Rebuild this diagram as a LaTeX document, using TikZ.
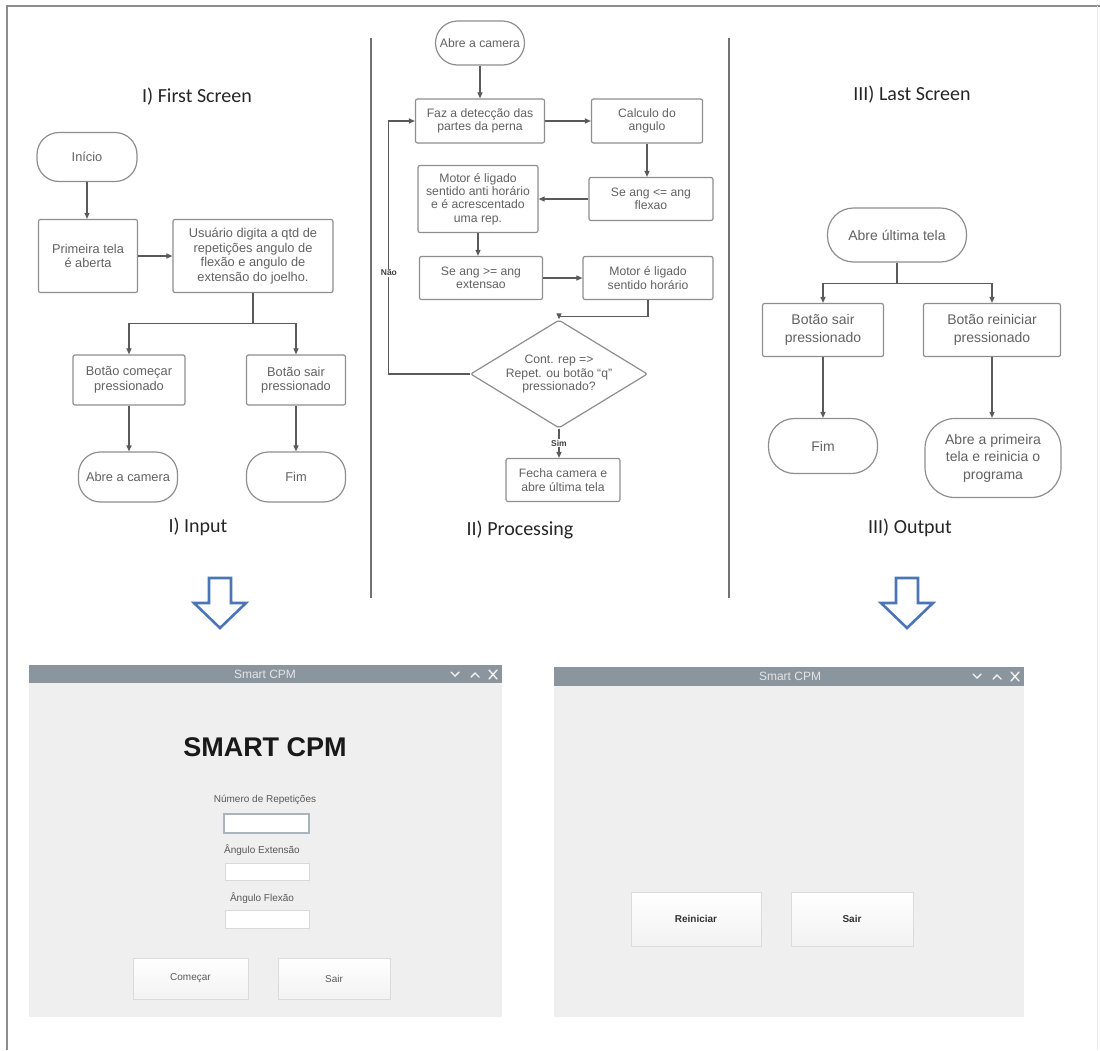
\documentclass[tikz,border=0pt]{standalone}
\usepackage{fontspec}
\setmainfont{Liberation Sans}
\newfontfamily\headfont{Carlito}
\usetikzlibrary{positioning,arrows.meta,shapes.geometric}

\definecolor{boxline}{HTML}{8E8E8E}
\definecolor{boxtext}{HTML}{626262}
\definecolor{wirecol}{HTML}{5A5A5A}
\definecolor{barcol}{HTML}{8A959E}
\definecolor{wincol}{HTML}{EFEFEF}
\definecolor{bluearrow}{HTML}{4A76B8}
\definecolor{fieldfocus}{HTML}{A9B4BB}

\tikzset{
  stepbox/.style={draw=boxline, rectangle, rounded corners=2pt, fill=white, text=boxtext,
                  align=center, inner sep=2pt, line width=1.2pt},
  termbox/.style={stepbox, rounded corners=22pt},
  decisionbox/.style={stepbox, diamond, inner xsep=-8pt, inner ysep=-10pt},
  leftfont/.style={font=\fontsize{12.8}{14.6}\selectfont},
  midfont/.style={font=\fontsize{12.2}{13.4}\selectfont},
  rightfont/.style={font=\fontsize{14}{17.5}\selectfont},
  flow/.style={draw=wirecol, line width=1.1pt, -{Triangle[length=6pt,width=5pt]}},
  wire/.style={draw=wirecol, line width=1.1pt},
  lbl/.style={fill=white, inner sep=1pt, text=black!75, font=\bfseries\fontsize{8.5}{9}\selectfont},
  heading/.style={font=\headfont\fontsize{20}{24}\selectfont, text=black!85},
  sep/.style={draw=black!55, line width=1.4pt},
  winbody/.style={fill=wincol, draw=none},
  winbar/.style={fill=barcol, draw=none},
  wintitle/.style={text=black!10, font=\fontsize{12}{13}\selectfont},
  winctrl/.style={draw=black!5, line width=1.4pt, line cap=round},
  fieldbox/.style={draw=black!15, fill=white, line width=0.8pt},
  fieldlbl/.style={text=black!65, font=\fontsize{10}{11}\selectfont},
  guibtn/.style={draw=black!14, line width=0.8pt, top color=white, bottom color=black!5},
  hollowarrow/.style={draw=bluearrow, line width=2.6pt, fill=white, line join=miter}
}

\begin{document}
\begin{tikzpicture}[x=1pt,y=-1pt]
\useasboundingbox (0,0) rectangle (1100,1050);

% frame and column separators
\draw[draw=black!45, line width=2.2pt] (7,1050) -- (7,6) -- (1100,6);
\draw[draw=black!8, line width=1pt] (1097,6) -- (1097,1050);
\draw[sep] (371,38) -- (371,598);
\draw[sep] (729,38) -- (729,598);

% I) first screen
\node[heading] (hFirst) at (197,97) {I) First Screen};
\node[termbox, leftfont, minimum width=100, minimum height=49] (inicio) at (87,157) {Início};
\node[stepbox, leftfont, minimum width=99, minimum height=73] (primeira) at (88,256) {Primeira tela\\é aberta};
\node[stepbox, leftfont, minimum width=160, minimum height=73] (usuario) at (253,256) {Usuário digita a qtd de\\repetições angulo de\\flexão e angulo de\\extensão do joelho.};
\node[stepbox, leftfont, minimum width=112, minimum height=50] (comecar) at (129,380) {Botão começar\\pressionado};
\node[stepbox, leftfont, minimum width=99, minimum height=50] (sairL) at (296,380) {Botão sair\\pressionado};
\node[termbox, leftfont, inner xsep=0pt, minimum width=99, minimum height=50] (camera) at (128,477) {Abre a camera};
\node[termbox, leftfont, minimum width=99, minimum height=50] (fimL) at (296,477) {Fim};
\node[heading] (hInput) at (198,527) {I) Input};

\draw[flow] (inicio.south) -- (inicio.south |- primeira.north);
\draw[flow] (primeira.east) -- (usuario.west);
\draw[wire] (usuario.south) -- ++(0,30) coordinate (splitL);
\draw[flow] (splitL) -| (comecar.north);
\draw[flow] (splitL) -| (sairL.north);
\draw[flow] (comecar.south) -- (comecar.south |- camera.north);
\draw[flow] (sairL.south) -- (fimL.north);

% II) processing
\node[termbox, midfont, inner xsep=0pt, minimum width=89, minimum height=44] (camAbre) at (480,43) {Abre a camera};
\node[stepbox, midfont, minimum width=129, minimum height=44] (deteccao) at (480,121) {Faz a detecção das\\partes da perna};
\node[stepbox, midfont, minimum width=111, minimum height=44] (calculo) at (647,121) {Calculo do\\angulo};
\node[stepbox, midfont, minimum width=124, minimum height=43] (seMenor) at (651,199) {Se ang <= ang\\flexao};
\node[stepbox, midfont, minimum width=120, minimum height=67] (motorAnti) at (478,199) {Motor é ligado\\sentido anti horário\\e é acrescentado\\uma rep.};
\node[stepbox, midfont, minimum width=123, minimum height=43] (seMaior) at (481,278) {Se ang >= ang\\extensao};
\node[stepbox, midfont, minimum width=130, minimum height=43] (motorHor) at (648,278) {Motor é ligado\\sentido horário};
\node[decisionbox, midfont, minimum width=177, minimum height=74] (decisao) at (559,374) {Cont. rep =>\\Repet. ou botão “q”\\pressionado?};
\node[stepbox, midfont, minimum width=114, minimum height=43] (fecha) at (563,480) {Fecha camera e\\abre última tela};
\node[heading] (hProc) at (520,530) {II) Processing};

\draw[flow] (camAbre.south) -- (deteccao.north);
\draw[flow] (deteccao.east) -- (calculo.west);
\draw[flow] (calculo.south) -- (calculo.south |- seMenor.north);
\draw[flow] (seMenor.west) -- (motorAnti.east);
\draw[flow] (motorAnti.south) -- (motorAnti.south |- seMaior.north);
\draw[flow] (seMaior.east) -- (motorHor.west);
\draw[flow] (motorHor.south) -- ++(0,16) -| (decisao.north);
\draw[flow] (decisao.west) -- ++(-81,0) |- node[lbl, pos=0.2] {Não} (deteccao.west);
\draw[flow] (decisao.south) -- node[lbl] {Sim} (decisao.south |- fecha.north);

% III) last screen
\node[heading] (hLast) at (912,95) {III) Last Screen};
\node[termbox, rightfont, rounded corners=26pt, minimum width=139, minimum height=54] (ultima) at (897,235) {Abre última tela};
\node[stepbox, rightfont, minimum width=121, minimum height=53] (sairR) at (823,330) {Botão sair\\pressionado};
\node[stepbox, rightfont, minimum width=137, minimum height=53] (reiniciar) at (992,330) {Botão reiniciar\\pressionado};
\node[termbox, rightfont, rounded corners=26pt, minimum width=109, minimum height=55] (fimR) at (823,446) {Fim};
\node[termbox, rightfont, rounded corners=30pt, minimum width=136, minimum height=79] (primeiraR) at (993,458) {Abre a primeira\\tela e reinicia o\\programa};
\node[heading] (hOut) at (910,528) {III) Output};

\draw[wire] (ultima.south) -- ++(0,21) coordinate (splitR);
\draw[flow] (splitR) -| (sairR.north);
\draw[flow] (splitR) -| (reiniciar.north);
\draw[flow] (sairR.south) -- (fimR.north);
\draw[flow] (reiniciar.south) -- (reiniciar.south |- primeiraR.north);

% hollow arrows
\draw[hollowarrow] (209,578) -- (231,578) -- (231,603) -- (246,603) -- (220,628) -- (194,603) -- (209,603) -- cycle;
\draw[hollowarrow] (896,578) -- (918,578) -- (918,603) -- (933,603) -- (907,628) -- (881,603) -- (896,603) -- cycle;

% first window
\node[winbody, minimum width=473, minimum height=352, inner sep=0pt] (winA) at (265.5,841) {};
\node[winbar, minimum width=473, minimum height=18, inner sep=0pt] (barA) at (265.5,674) {};
\node[wintitle] (titleA) at (265,674) {Smart CPM};
\draw[winctrl] (451,672) -- (455,676) -- (459,672);
\draw[winctrl] (471,677) -- (475,673) -- (479,677);
\draw[winctrl] (489,670) -- (497,679) (489,679) -- (497,670);
\node[font=\bfseries\fontsize{27}{30}\selectfont, text=black!90] (smart) at (265,747) {SMART CPM};
\node[fieldlbl] (lblRep) at (265,800) {Número de Repetições};
\node[fieldbox, draw=fieldfocus, line width=1.4pt, minimum width=85, minimum height=19, inner sep=0pt] (fieldRep) at (266.5,823.5) {};
\node[fieldlbl] (lblExt) at (262,850) {Ângulo Extensão};
\node[fieldbox, minimum width=84, minimum height=17, inner sep=0pt] (fieldExt) at (267,871.5) {};
\node[fieldlbl] (lblFlex) at (262,898) {Ângulo Flexão};
\node[fieldbox, minimum width=84, minimum height=18, inner sep=0pt] (fieldFlex) at (267,919) {};
\node[guibtn, fieldlbl, minimum width=115, minimum height=41] (btnComecar) at (190.5,978.5) {Começar};
\node[guibtn, fieldlbl, minimum width=112, minimum height=41] (btnSairA) at (334,978.5) {Sair};

% last window
\node[winbody, minimum width=470, minimum height=350, inner sep=0pt] (winB) at (789,842) {};
\node[winbar, minimum width=470, minimum height=19, inner sep=0pt] (barB) at (789,676.5) {};
\node[wintitle] (titleB) at (790,676) {Smart CPM};
\draw[winctrl] (973,674) -- (977,678) -- (981,674);
\draw[winctrl] (993,679) -- (997,675) -- (1001,679);
\draw[winctrl] (1011,672) -- (1019,681) (1011,681) -- (1019,672);
\node[guibtn, fieldlbl, text=black!80, font=\bfseries\fontsize{10}{11}\selectfont, minimum width=130, minimum height=54] (btnReiniciar) at (696,919) {Reiniciar};
\node[guibtn, fieldlbl, text=black!80, font=\bfseries\fontsize{10}{11}\selectfont, minimum width=122, minimum height=54] (btnSairB) at (852,919) {Sair};
\end{tikzpicture}
\end{document}
